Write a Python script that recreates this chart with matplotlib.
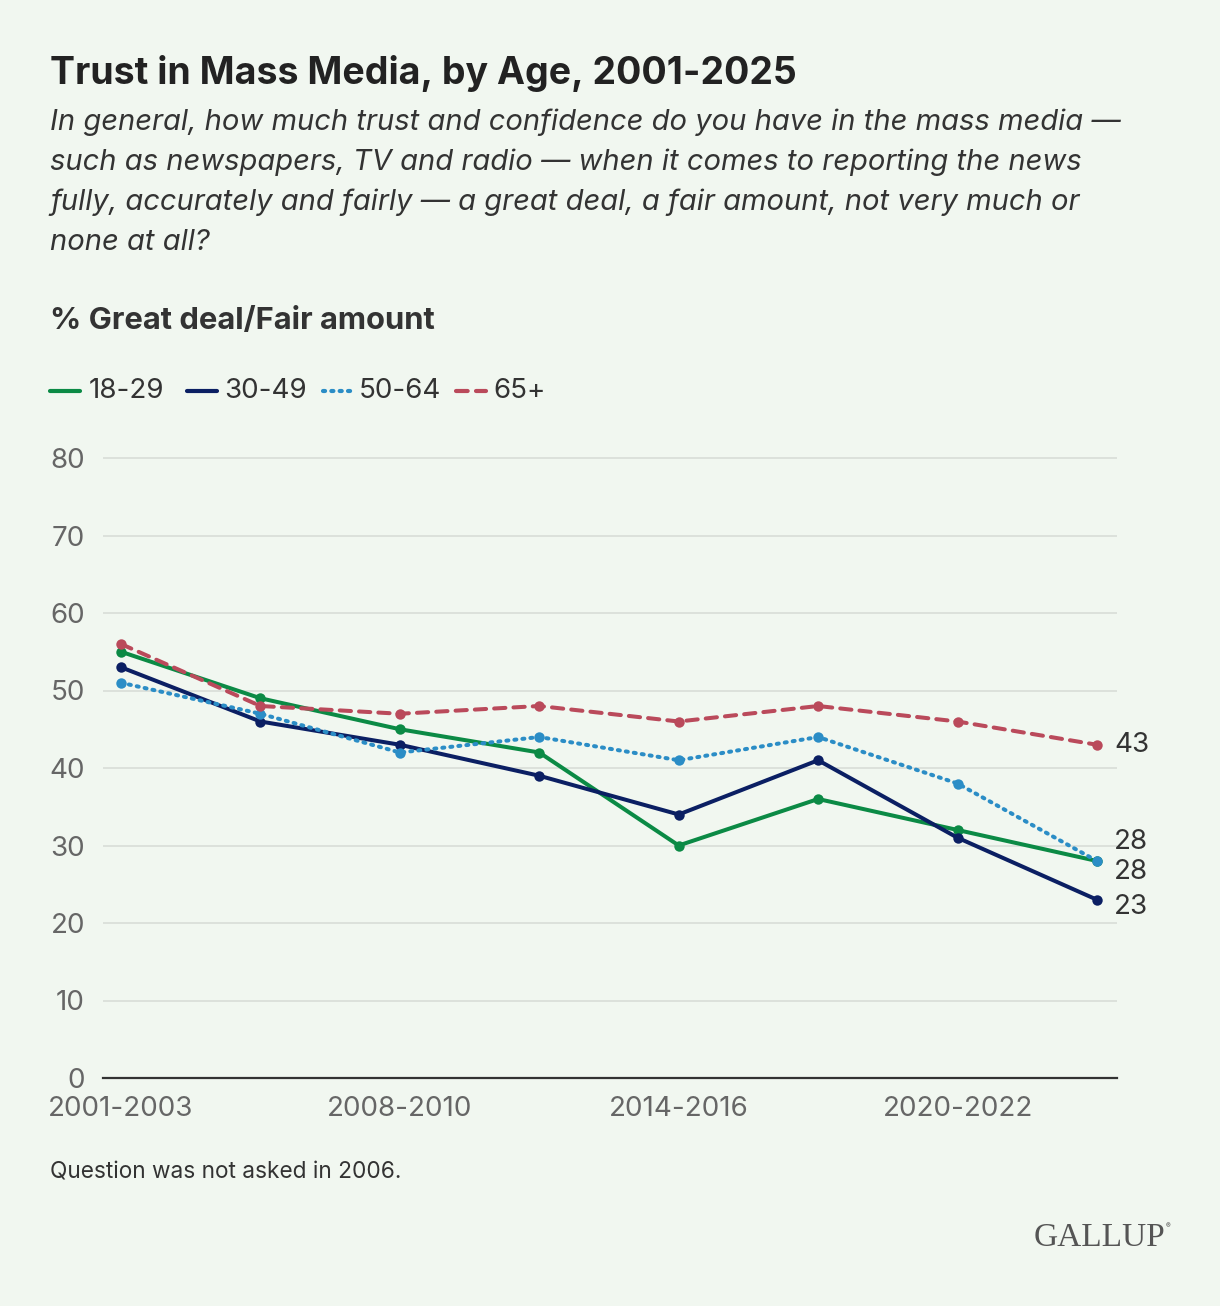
import matplotlib
matplotlib.use("Agg")
import matplotlib.pyplot as plt
from matplotlib.lines import Line2D

periods = ["2001-2003", "2004-2007", "2008-2010", "2011-2013",
           "2014-2016", "2017-2019", "2020-2022", "2023-2025"]
tick_labels = ["2001-2003", "", "2008-2010", "", "2014-2016", "", "2020-2022", ""]
series_names = ["18-29", "30-49", "50-64", "65+"]
age_18_29 = [55, 49, 45, 42, 30, 36, 32, 28]
age_30_49 = [53, 46, 43, 39, 34, 41, 31, 23]
age_50_64 = [51, 47, 42, 44, 41, 44, 38, 28]
age_65_plus = [56, 48, 47, 48, 46, 48, 46, 43]
yticks = [0, 10, 20, 30, 40, 50, 60, 70, 80]

BG = "#F1F7F0"
colors = ["#0B8A45", "#0B1F63", "#2B8DC6", "#BA4A5B"]
styles = ["-", "-", (0, (0.5, 1.5)), (0, (2.8, 2.0))]
caps = ["butt", "butt", "round", "round"]
data = [age_18_29, age_30_49, age_50_64, age_65_plus]

plt.rcParams['font.family'] = ['Inter', 'DejaVu Sans']

W, H = 1220, 1306
fig = plt.figure(figsize=(W / 100, H / 100), dpi=100, facecolor=BG)

def fx(px):
    return px / W

def fy(py):
    return 1 - py / H

ppu = (1078 - 458) / 80
top_px = 458 - 2 * ppu
ax = fig.add_axes([fx(103), fy(1078), fx(1117) - fx(103), fy(top_px) - fy(1078)])
ax.set_facecolor(BG)
step = (1097 - 121) / 7
ax.set_xlim(-(121 - 103) / step, 7 + (1117 - 1097) / step)
ax.set_ylim(0, 82)

x = list(range(len(periods)))
order = [3, 2, 0, 1]
for i in order:
    ax.plot(x, data[i], color=colors[i], linestyle=styles[i], lw=2.9,
            dash_capstyle=caps[i], solid_capstyle="round",
            marker="o", markersize=7.5, markeredgewidth=0, zorder=3 + i, clip_on=False)

for s in ["top", "right", "left"]:
    ax.spines[s].set_visible(False)
ax.spines["bottom"].set_color("#333333")
ax.spines["bottom"].set_linewidth(1.6)
ax.set_yticks(yticks)
ax.set_yticklabels([str(v) for v in yticks])
ax.grid(axis="y", color="#D8DDD7", lw=1.2)
ax.set_axisbelow(True)
ax.tick_params(axis="y", length=0, pad=13, labelsize=20, labelcolor="#666666")
ax.tick_params(axis="x", length=0, pad=13, labelsize=20, labelcolor="#666666")
ax.set_xticks(x)
ax.set_xticklabels(tick_labels)

end_labels = [(age_65_plus[-1], 43.0), (age_50_64[-1], 30.5), (age_18_29[-1], 26.6), (age_30_49[-1], 22.0)]
for val, ypos in end_labels:
    ax.text(7 + 17 / step, ypos, str(val), fontsize=20, color="#333333", va="center", ha="left")

fig.text(fx(50), fy(73), "Trust in Mass Media, by Age, 2001-2025", fontsize=27, fontweight="bold",
         color="#222222", va="center", ha="left")
sub_lines = ["In general, how much trust and confidence do you have in the mass media \u2014",
             "such as newspapers, TV and radio \u2014 when it comes to reporting the news",
             "fully, accurately and fairly \u2014 a great deal, a fair amount, not very much or",
             "none at all?"]
for k, line in enumerate(sub_lines):
    fig.text(fx(50), fy(122 + 40 * k), line, fontsize=21, style="italic", color="#333333",
             va="center", ha="left")
fig.text(fx(50), fy(321), "% Great deal/Fair amount", fontsize=22.3, fontweight="bold",
         color="#333333", va="center", ha="left")

leg_pos = [(50, 80, 89), (187, 217, 224), (323, 353, 359), (456, 486, 493)]
for i, (x0, x1, xt) in enumerate(leg_pos):
    fig.add_artist(Line2D([fx(x0), fx(x1)], [fy(391), fy(391)], transform=fig.transFigure,
                          color=colors[i], linestyle=styles[i], lw=3.0, dash_capstyle=caps[i],
                          solid_capstyle="round"))
    fig.text(fx(xt), fy(391), series_names[i], fontsize=20, color="#333333", va="center", ha="left")

fig.text(fx(50), fy(1173), "Question was not asked in 2006.", fontsize=16.3, color="#333333",
         va="center", ha="left")
fig.text(fx(1165), fy(1238), "GALLUP", fontsize=24, color="#555555", va="center", ha="right",
         family=["Liberation Serif", "DejaVu Serif"])
fig.text(fx(1166), fy(1226), "\u00ae", fontsize=5, color="#555555", va="center", ha="left")

fig.savefig("out.png", dpi=100, facecolor=BG)
